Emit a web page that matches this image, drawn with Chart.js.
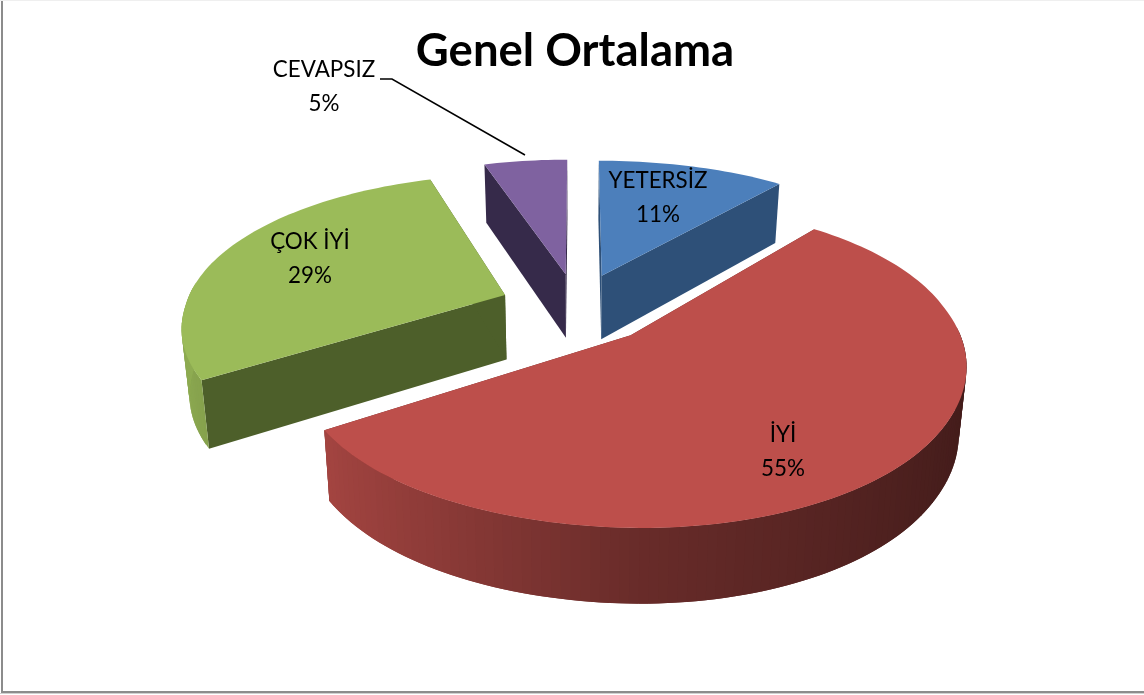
<!DOCTYPE html>
<html>
<head>
<meta charset="utf-8">
<title>Genel Ortalama</title>
<script src="https://cdn.jsdelivr.net/npm/chart.js@4"></script>
<style>
  html, body { margin: 0; padding: 0; background: #fff; }
  canvas { display: block; }
</style>
</head>
<body>
<canvas id="chart" width="1144" height="695"></canvas>
<script>
const titleText = 'Genel Ortalama';
const categories = ['YETERSİZ', 'İYİ', 'ÇOK İYİ', 'CEVAPSIZ'];
const percentValues = [11, 55, 29, 5];

const topColors = ['#4c7fbb', '#bd4f4b', '#9bbb59', '#7f62a0'];
const sideColors = ['#2e5078', '#6e2a28', '#4d5f2a', '#362a4a'];
const sliceOffsets = [300, 315, 310, 300];
const labelSpots = [[658, 181], [783, 435], [310, 242], [324, 70]];
const labelFont = '22.4px Lato';

// camera used to lay the flat pie down, fitted to the picture
const view = { cx: 577, scale: 320, persp: 0.19, yBase: -470, yPerS: 777, wallBase: 28, wallPerS: 37, wallNarrow: 0.02 };

function project(u, v, z) {
  const s = 1 / (1 - view.persp * v);
  // the picture's vanishing point sits a bit off centre, so x foreshortens unevenly
  const px = (v < 0 ? 0.165 : view.persp) - (u > 0 ? 0.03 : 0);
  const sx = 1 / (1 - px * v);
  const flatten = 25 * Math.pow(Math.max(0, v - 0.75), 2);
  return {
    x: view.cx + view.scale * sx * u * (1 - view.wallNarrow * z),
    y: view.yBase + view.yPerS * s - flatten + z * (view.wallBase + view.wallPerS * s)
  };
}

function hexShade(hex, f) {
  const n = parseInt(hex.slice(1), 16);
  const c = [n >> 16, (n >> 8) & 255, n & 255].map(x => Math.round(x * f));
  return `rgb(${c[0]},${c[1]},${c[2]})`;
}

// how bright the round outer wall is, by which way it faces (-1 left, 1 right)
function wallLight(nx) {
  return nx < 0 ? 0.55 - 0.37 * nx : 0.55 - 0.2 * nx;
}

function fillPoly(ctx, pts, color) {
  ctx.beginPath();
  pts.forEach((p, i) => i ? ctx.lineTo(p.x, p.y) : ctx.moveTo(p.x, p.y));
  ctx.closePath();
  ctx.fillStyle = color;
  ctx.fill();
}

function drawSlice(ctx, arc, i) {
  const R = arc.outerRadius;
  const mid = (arc.startAngle + arc.endAngle) / 2;
  const off = arc.options.offset / 4 / R;
  const ou = Math.cos(mid) * off;
  const ov = Math.sin(mid) * off;
  const top = topColors[i];
  const steps = Math.max(8, Math.round((arc.endAngle - arc.startAngle) * 40));
  const rim = [];
  for (let k = 0; k <= steps; k++) {
    const a = arc.startAngle + (arc.endAngle - arc.startAngle) * k / steps;
    rim.push({ a, u: ou + Math.cos(a), v: ov + Math.sin(a) });
  }

  // cut faces first, the top covers whichever one faces away
  [rim[0], rim[steps]].forEach(p => {
    fillPoly(ctx, [project(ou, ov, 0), project(p.u, p.v, 0), project(p.u, p.v, 1), project(ou, ov, 1)], sideColors[i]);
  });

  // outer wall, each strip runs under the next one so no seams show
  for (let k = 0; k < steps; k++) {
    const p = rim[k], q = rim[Math.min(k + 2, steps)];
    const at = (rim[k].a + rim[k + 1].a) / 2;
    if (Math.sin(at) < -0.05) continue;
    fillPoly(ctx, [project(p.u, p.v, 0), project(q.u, q.v, 0), project(q.u, q.v, 1), project(p.u, p.v, 1)], hexShade(top, wallLight(Math.cos(at))));
  }

  // top
  fillPoly(ctx, [project(ou, ov, 0)].concat(rim.map(p => project(p.u, p.v, 0))), top);
}

const pie3d = {
  id: 'pie3d',
  beforeDatasetsDraw(chart) {
    const ctx = chart.ctx;
    const arcs = chart.getDatasetMeta(0).data;
    // back to front
    const order = arcs.map((a, i) => i).sort((a, b) =>
      Math.sin((arcs[a].startAngle + arcs[a].endAngle) / 2) - Math.sin((arcs[b].startAngle + arcs[b].endAngle) / 2));
    ctx.save();
    order.forEach(i => drawSlice(ctx, arcs[i], i));
    ctx.restore();
    return false;
  },
  afterDraw(chart) {
    const ctx = chart.ctx;
    ctx.save();
    // frame, only left and bottom show in the picture
    ctx.fillStyle = '#8c8c8c';
    ctx.fillRect(1, 0, 2, 693);
    ctx.fillRect(1, 691, 1143, 2);
    ctx.fillStyle = '#d0d0d0';
    ctx.fillRect(0, 693, 1144, 1);
    ctx.fillStyle = '#efefef';
    ctx.fillRect(0, 0, 1144, 1);
    // leader line of the small slice
    ctx.strokeStyle = '#000';
    ctx.lineWidth = 1.5;
    ctx.beginPath();
    ctx.moveTo(380, 79);
    ctx.lineTo(392, 79);
    ctx.lineTo(525, 155);
    ctx.stroke();
    // data labels
    ctx.fillStyle = '#000';
    ctx.font = labelFont;
    ctx.textAlign = 'center';
    ctx.textBaseline = 'middle';
    categories.forEach((name, i) => {
      const [x, y] = labelSpots[i];
      ctx.fillText(name, x, y);
      ctx.fillText(percentValues[i] + '%', x, y + 34);
    });
    ctx.restore();
  }
};

new Chart(document.getElementById('chart'), {
  type: 'pie',
  data: {
    labels: categories,
    datasets: [{
      data: percentValues,
      backgroundColor: topColors,
      borderWidth: 0,
      offset: sliceOffsets
    }]
  },
  options: {
    responsive: false,
    animation: false,
    events: [],
    radius: 320,
    layout: { padding: { left: 6 } },
    plugins: {
      legend: { display: false },
      tooltip: { enabled: false },
      title: {
        display: true,
        text: titleText,
        color: '#000',
        font: { family: 'Lato', size: 45.5, weight: 'bold' },
        padding: { top: 24, bottom: 10 }
      }
    }
  },
  plugins: [pie3d]
});
</script>
</body>
</html>
